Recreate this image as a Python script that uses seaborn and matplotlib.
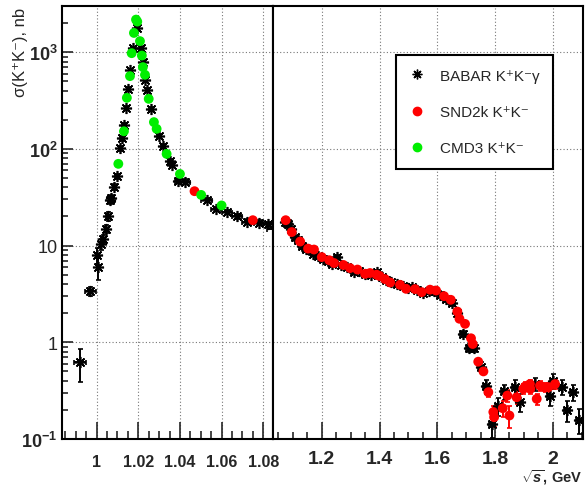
import numpy as np
import matplotlib
matplotlib.use("Agg")
from matplotlib import pyplot as plt
from matplotlib.ticker import FixedLocator, FixedFormatter, MultipleLocator, LogLocator, NullLocator, NullFormatter
from matplotlib.lines import Line2D
import seaborn as sns

# BABAR K+K-gamma (black asterisks)
babar_x = [0.992, 0.997, 1.0003, 1.0008, 1.002, 1.003, 1.0045, 1.0053, 1.0064, 1.0068,
           1.0083, 1.0096, 1.0112, 1.0120, 1.0130, 1.0141, 1.0152, 1.0160, 1.0173, 1.0192,
           1.0213, 1.0224, 1.0232, 1.0243, 1.0259, 1.0301, 1.0317, 1.0352, 1.0362, 1.0392,
           1.0424, 1.0528, 1.0573, 1.0627, 1.0673, 1.0722, 1.0780, 1.0824,
           1.0920, 1.1075, 1.1180, 1.1310, 1.1450, 1.1580, 1.1710, 1.1880, 1.2050, 1.2200,
           1.2340, 1.2520, 1.2680, 1.2890, 1.3100, 1.3300, 1.3500, 1.3700, 1.3900, 1.4100,
           1.4227, 1.4400, 1.4600, 1.4800, 1.5000, 1.5117, 1.5300, 1.5500, 1.5700, 1.5900,
           1.6100, 1.6300, 1.6500, 1.6700, 1.6880, 1.7100, 1.7270, 1.7517, 1.7680, 1.7890,
           1.8117, 1.8313, 1.8690, 1.8867, 1.9386, 1.9907, 2.0020, 2.0310, 2.0507, 2.0690,
           2.0920]
babar_y = [0.62, 3.37, 7.9, 6.0, 10.4, 11.7, 14.9, 20.1, 29.7, 31.0,
           40.6, 52.0, 101, 129, 177, 263, 417, 652, 1100, 1760,
           1100, 790, 517, 410, 259, 137, 108, 75.7, 68.4, 47.0,
           45.9, 29.5, 24.0, 22.3, 20.1, 17.7, 17.2, 16.6,
           14.8, 12.2, 11.3, 10.0, 9.2, 8.9, 8.2, 7.8, 7.3, 7.0,
           6.4, 7.6, 6.3, 6.0, 5.3, 5.5, 5.1, 5.0, 5.3, 4.7,
           4.45, 4.2, 4.0, 3.8, 3.6, 3.72, 3.5, 3.2, 3.4, 3.4,
           3.1, 2.8, 2.55, 2.0, 1.22, 0.875, 0.87, 0.56, 0.35, 0.143,
           0.218, 0.31, 0.343, 0.24, 0.37, 0.28, 0.40, 0.343, 0.20, 0.305,
           0.158]
babar_xerr = [0.003, 0.0025, 0.0006, 0.0006, 0.0006, 0.0006, 0.0006, 0.0006, 0.0006, 0.0006,
              0.0006, 0.0006, 0.0006, 0.0006, 0.0006, 0.0006, 0.0006, 0.0006, 0.0006, 0.0006,
              0.0006, 0.0006, 0.0006, 0.0006, 0.0006, 0.001, 0.001, 0.001, 0.001, 0.0015,
              0.0025, 0.0025, 0.0025, 0.0025, 0.0025, 0.0025, 0.0025, 0.0025,
              0.01, 0.01, 0.01, 0.01, 0.01, 0.01, 0.01, 0.01, 0.01, 0.01,
              0.01, 0.01, 0.01, 0.01, 0.01, 0.01, 0.01, 0.01, 0.01, 0.01,
              0.01, 0.01, 0.01, 0.01, 0.01, 0.01, 0.01, 0.01, 0.01, 0.01,
              0.01, 0.01, 0.01, 0.01, 0.01, 0.01, 0.01, 0.01, 0.01, 0.01,
              0.01, 0.01, 0.01, 0.01, 0.01, 0.01, 0.01, 0.01, 0.01, 0.01,
              0.01]
babar_yerr = [0.23, 0.35, 1.6, 1.6, 1.3, 1.3, 1.5, 2.0, 2.5, 2.5,
              3.0, 3.5, 6.0, 7.0, 9.0, 12, 17, 25, 40, 60,
              40, 30, 20, 16, 11, 6.0, 5.0, 3.5, 3.2, 2.5,
              2.4, 1.6, 1.3, 1.2, 1.1, 1.0, 1.0, 1.0,
              0.6, 0.5, 0.45, 0.4, 0.35, 0.35, 0.3, 0.3, 0.3, 0.3,
              0.3, 0.35, 0.3, 0.3, 0.25, 0.25, 0.25, 0.25, 0.25, 0.22,
              0.22, 0.2, 0.2, 0.2, 0.2, 0.2, 0.2, 0.18, 0.2, 0.2,
              0.18, 0.16, 0.15, 0.12, 0.09, 0.08, 0.08, 0.07, 0.06, 0.04,
              0.045, 0.055, 0.06, 0.05, 0.06, 0.06, 0.07, 0.06, 0.05, 0.06,
              0.045]

# SND2k K+K- (red circles)
snd_x = [1.047, 1.075, 1.096, 1.125, 1.1525, 1.173, 1.200, 1.226, 1.2425, 1.275,
         1.298, 1.3235, 1.350, 1.367, 1.390, 1.400, 1.419, 1.437, 1.471, 1.492,
         1.523, 1.546, 1.575, 1.596, 1.6236, 1.6468, 1.6697, 1.677, 1.6963, 1.717,
         1.723, 1.742, 1.760, 1.777, 1.7943, 1.797, 1.827, 1.8428, 1.850, 1.875,
         1.898, 1.905, 1.921, 1.9225, 1.9446, 1.956, 1.973, 1.985, 2.008]
snd_y = [36.5, 18.3, 13.8, 11.0, 9.3, 9.1, 7.6, 7.05, 6.6, 6.3,
         5.85, 5.65, 5.1, 5.2, 5.0, 4.85, 4.5, 4.15, 3.93, 3.57,
         3.55, 3.3, 3.5, 3.43, 3.0, 2.75, 2.08, 1.75, 1.55, 1.1,
         0.96, 0.63, 0.50, 0.305, 0.19, 0.168, 0.208, 0.281, 0.175, 0.27,
         0.33, 0.35, 0.37, 0.33, 0.26, 0.357, 0.343, 0.343, 0.37]
snd_yerr = [0.8, 0.4, 0.3, 0.25, 0.2, 0.2, 0.17, 0.15, 0.15, 0.14,
            0.13, 0.13, 0.12, 0.12, 0.11, 0.11, 0.1, 0.1, 0.09, 0.09,
            0.09, 0.08, 0.09, 0.09, 0.08, 0.07, 0.06, 0.05, 0.05, 0.04,
            0.04, 0.03, 0.03, 0.03, 0.03, 0.035, 0.04, 0.04, 0.045, 0.04,
            0.04, 0.04, 0.04, 0.04, 0.035, 0.04, 0.04, 0.04, 0.04]

# CMD3 K+K- (green circles)
cmd_x = [1.0104, 1.0131, 1.0145, 1.0160, 1.0168, 1.0179, 1.0189, 1.0195, 1.0208, 1.0217,
         1.0222, 1.0232, 1.0250, 1.0275, 1.0288, 1.0336, 1.0400, 1.0502, 1.0600]
cmd_y = [70, 152, 337, 565, 976, 1580, 2170, 2070, 1300, 922,
         700, 583, 329, 189, 161, 88.7, 55, 33.4, 26]

ytick_vals = [0.1, 1, 10, 100, 1000]
ytick_labels = [r"$10^{-1}$", "1", "10", r"$10^{2}$", r"$10^{3}$"]
left_ticks = [1.0, 1.02, 1.04, 1.06, 1.08]
left_labels = ["1", "1.02", "1.04", "1.06", "1.08"]
right_ticks = [1.2, 1.4, 1.6, 1.8, 2.0]
right_labels = ["1.2", "1.4", "1.6", "1.8", "2"]

sns.set_theme(style="ticks")
plt.rcParams["font.family"] = ["Liberation Sans", "DejaVu Sans"]
plt.rcParams["mathtext.fontset"] = "custom"
plt.rcParams["mathtext.rm"] = "Liberation Sans:bold"
plt.rcParams["mathtext.it"] = "Liberation Sans:italic:bold"
plt.rcParams["mathtext.bf"] = "Liberation Sans:bold"

fig = plt.figure(figsize=(5.88, 4.89), dpi=100)
H = 489.0
W = 588.0
ax1 = fig.add_axes([61.7 / W, 1 - 440 / H, (273 - 61.7) / W, 433 / H])
ax2 = fig.add_axes([273 / W, 1 - 440 / H, (583.3 - 273) / W, 433 / H])

bx = np.array(babar_x)
sx = np.array(snd_x)
cx = np.array(cmd_x)

for ax, lo in [(ax1, 0.0), (ax2, 1.07)]:
    mb = bx >= lo
    ms = sx >= lo
    mc = cx >= lo
    ax.errorbar(bx[mb], np.array(babar_y)[mb], xerr=np.array(babar_xerr)[mb],
                yerr=np.array(babar_yerr)[mb], fmt="none", ecolor="black",
                elinewidth=1.4, capsize=1.8, capthick=1.2, zorder=3)
    ax.errorbar(sx[ms], np.array(snd_y)[ms], yerr=np.array(snd_yerr)[ms], fmt="none",
                ecolor="red", elinewidth=1.4, capsize=1.8, capthick=1.2, zorder=3)
    ax.plot(bx[mb], np.array(babar_y)[mb], linestyle="none", marker=(8, 2, 0),
            markersize=8, markeredgewidth=1.2, color="black", zorder=4)
    sns.scatterplot(x=sx[ms], y=np.array(snd_y)[ms], ax=ax, color="red", s=50,
                    edgecolor="none", zorder=5)
    sns.scatterplot(x=cx[mc], y=np.array(cmd_y)[mc], ax=ax, color="#00ee00", s=50,
                    edgecolor="none", zorder=5)

    ax.set_yscale("log")
    ax.set_ylim(0.1, 3000)
    ax.grid(True, which="major", linestyle=(0, (1, 2)), color="#777777", linewidth=0.8)
    for sp in ax.spines.values():
        sp.set_visible(True)
        sp.set_linewidth(1.5)
        sp.set_color("black")
    ax.set_xlabel("")
    ax.set_ylabel("")

ax1.set_xlim(0.9832, 1.0847)
ax1.xaxis.set_major_locator(FixedLocator(left_ticks))
ax1.xaxis.set_major_formatter(FixedFormatter(left_labels))
ax1.xaxis.set_minor_locator(MultipleLocator(0.005))
ax1.yaxis.set_major_locator(FixedLocator(ytick_vals))
ax1.yaxis.set_major_formatter(FixedFormatter(ytick_labels))
ax1.yaxis.set_minor_locator(LogLocator(base=10, subs=np.arange(2, 10), numticks=20))
ax1.yaxis.set_minor_formatter(NullFormatter())
ax1.tick_params(axis="x", which="major", direction="in", length=12, width=1.2,
                pad=11, labelsize=11.5, top=False)
ax1.tick_params(axis="x", which="minor", direction="in", length=6, width=1.2, top=False)
ax1.tick_params(axis="y", which="major", direction="in", length=8, width=1.2,
                pad=3, labelsize=13, right=False)
ax1.tick_params(axis="y", which="minor", direction="in", length=4, width=1.2, right=False)
for lab in ax1.get_xticklabels():
    lab.set_fontweight("bold")

ax2.set_xlim(1.031, 2.106)
ax2.xaxis.set_major_locator(FixedLocator(right_ticks))
ax2.xaxis.set_major_formatter(FixedFormatter(right_labels))
ax2.xaxis.set_minor_locator(MultipleLocator(0.05))
ax2.yaxis.set_major_locator(FixedLocator(ytick_vals))
ax2.yaxis.set_minor_locator(NullLocator())
ax2.tick_params(axis="x", which="major", direction="in", length=12, width=1.2,
                pad=8, labelsize=14, top=False)
ax2.tick_params(axis="x", which="minor", direction="in", length=5, width=1.2, top=False)
ax2.tick_params(axis="y", which="both", left=False, right=False, labelleft=False)
for lab in ax2.get_xticklabels():
    lab.set_fontweight("bold")

fig.text(20 / W, 1 - 52 / H, "σ(K⁺K⁻), nb", rotation=90, ha="center", va="center",
         fontsize=12, family=["Liberation Sans", "DejaVu Sans"])
fig.text(582 / W, 1 - 478 / H, r"$\sqrt{s}$, GeV", ha="right", va="center",
         fontsize=10.5, fontweight="bold")

handles = [
    Line2D([], [], linestyle="none", marker=(8, 2, 0), markersize=7,
           markeredgewidth=1.0, color="black"),
    Line2D([], [], linestyle="none", marker="o", markersize=6, color="red"),
    Line2D([], [], linestyle="none", marker="o", markersize=6, color="#00ee00"),
]
labels = ["BABAR K⁺K⁻γ", "SND2k K⁺K⁻", "CMD3 K⁺K⁻"]
leg = fig.legend(handles, labels, loc="upper left", bbox_to_anchor=(396 / W, 1 - 56 / H),
                 fontsize=11, frameon=True, fancybox=False, framealpha=1,
                 edgecolor="black", handlelength=1.0, handletextpad=0.95,
                 labelspacing=1.45, borderpad=0.9, borderaxespad=0)
leg.get_frame().set_linewidth(1.5)

fig.savefig("out.png", dpi=100)
